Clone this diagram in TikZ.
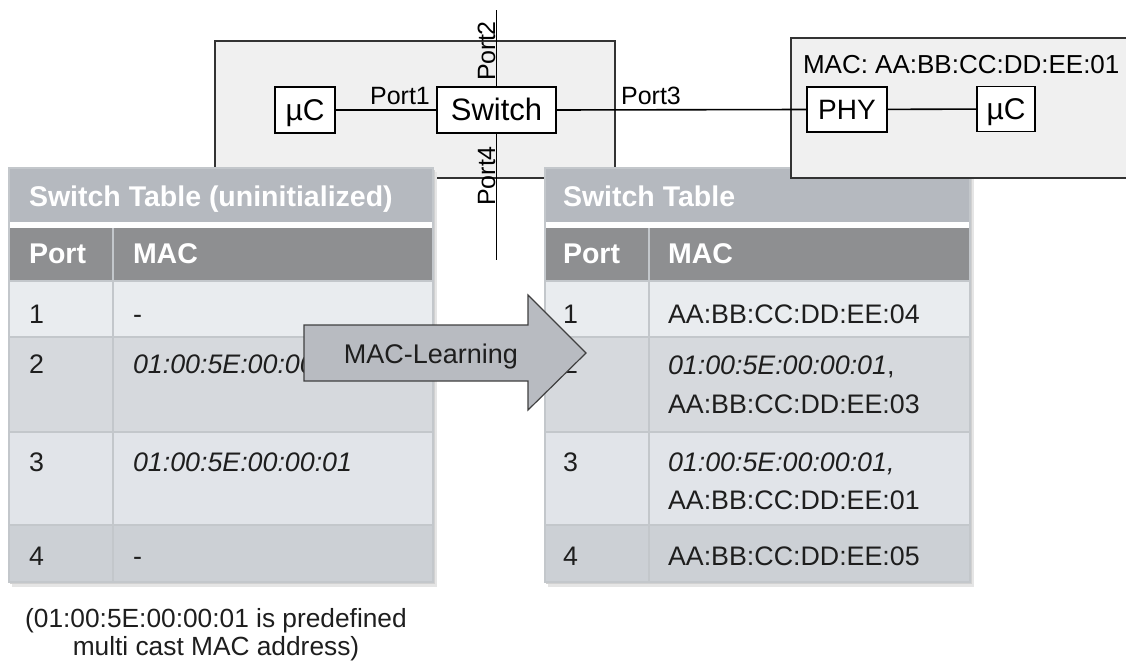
\documentclass[tikz,border=0pt]{standalone}
\usepackage{fontspec}
\setmainfont{Liberation Sans}
\definecolor{boxfill}{HTML}{F0F0F0}
\definecolor{titlebg}{HTML}{B5B9BF}
\definecolor{headbg}{HTML}{8E8F91}
\definecolor{rowa}{HTML}{E9ECEF}
\definecolor{rowb}{HTML}{D6D9DD}
\definecolor{rowc}{HTML}{E1E4E9}
\definecolor{rowd}{HTML}{CCD0D5}
\definecolor{gridc}{HTML}{C3C7CB}
\definecolor{arrowfill}{HTML}{B8BBC1}
\definecolor{celltext}{HTML}{1E1E1E}
\newcommand{\mytablebg}[3]{%
  \fill[black!10] (#1+3,172) rectangle (#3+4,587);
  \fill[black!18] (#1+1,170) rectangle (#3+2,584);
  \fill[titlebg] (#1,168) rectangle (#3,222);
  \fill[white] (#1,222) rectangle (#3,228);
  \fill[headbg] (#1,228) rectangle (#3,281);
  \fill[rowa] (#1,281) rectangle (#3,337);
  \fill[rowb] (#1,337) rectangle (#3,432);
  \fill[rowc] (#1,432) rectangle (#3,525);
  \fill[rowd] (#1,525) rectangle (#3,582);
  \draw[gridline] (#1,281) -- (#3,281);
  \draw[gridline] (#1,337) -- (#3,337);
  \draw[gridline] (#1,432) -- (#3,432);
  \draw[gridline] (#1,525) -- (#3,525);
  \draw[gridline] (#2,228) -- (#2,582);
  \draw[gridline] (#1,168) rectangle (#3,582);
}
\begin{document}
\begin{tikzpicture}[x=1pt,y=-1pt,
  every node/.style={inner sep=0pt, outer sep=0pt},
  blk/.style={draw=black, line width=1.6pt, fill=white, minimum height=46pt, text height=21.5pt, text depth=0pt},
  bigbox/.style={draw=black!80, line width=1.6pt, fill=boxfill},
  wire/.style={draw=black, line width=1.6pt},
  dtext/.style={font=\fontsize{30}{36}\selectfont},
  portlbl/.style={font=\fontsize{25}{30}\selectfont, anchor=base},
  ttitle/.style={font=\bfseries\fontsize{28.5}{34}\selectfont, text=white, anchor=base west},
  tcell/.style={font=\fontsize{26.8}{32}\selectfont, text=celltext, anchor=base west},
  gridline/.style={draw=gridc, line width=1.5pt},
  notetext/.style={font=\fontsize{26.3}{31}\selectfont, text=celltext, anchor=base},
]
\useasboundingbox (0,0) rectangle (1126,666);
\clip (0,0) rectangle (1126,666);
\fill[white] (0,0) rectangle (1126,666);

% left ECU with switch
\node[bigbox, minimum width=400pt, minimum height=137pt] (ecuA) at (415,109.5) {};
\coordinate (p2end) at (496.5,10);
\coordinate (p4end) at (496.5,260);
\node[blk, dtext, minimum width=60pt] (mcA) at (305,110) {µC};
\node[blk, font=\fontsize{31}{36}\selectfont, minimum width=119pt, text height=22pt] (sw) at (496.5,110) {Switch};
\draw[wire] (sw.north) -- (p2end);
\draw[wire] (sw.south) -- (p4end);
\draw[wire] (mcA) -- (sw);
\node[portlbl] (p1) at (400,105) {Port1};
\node[portlbl, rotate=90] (p2) at (495,51) {Port2};
\node[portlbl, rotate=90] (p4) at (495,176) {Port4};
\node[portlbl] (p3) at (651,105) {Port3};

% left table
\mytablebg{9}{113}{433}
\node[ttitle] (ltT) at (29,206) {Switch Table (uninitialized)};
\node[ttitle] (ltH1) at (29,263) {Port};
\node[ttitle] (ltH2) at (133,263) {MAC};
\node[tcell] (lt1a) at (29,323) {1};
\node[tcell] (lt1b) at (133,323) {-};
\node[tcell] (lt2a) at (29,373) {2};
\node[tcell] (lt2b) at (133,373) {\itshape 01:00:5E:00:00:01};
\node[tcell] (lt3a) at (29,471) {3};
\node[tcell] (lt3b) at (133,471) {\itshape 01:00:5E:00:00:01};
\node[tcell] (lt4a) at (29,565) {4};
\node[tcell] (lt4b) at (133,565) {-};

% right table
\mytablebg{545}{649}{970}
\node[ttitle] (rtT) at (563,206) {Switch Table};
\node[ttitle] (rtH1) at (563,263) {Port};
\node[ttitle] (rtH2) at (668,263) {MAC};
\node[tcell] (rt1a) at (563,323) {1};
\node[tcell] (rt1b) at (668,323) {AA:BB:CC:DD:EE:04};
\node[tcell] (rt2a) at (563,373) {2};
\node[tcell] (rt2b) at (668,374) {\textit{01:00:5E:00:00:01},};
\node[tcell] (rt2c) at (668,413) {AA:BB:CC:DD:EE:03};
\node[tcell] (rt3a) at (563,471) {3};
\node[tcell] (rt3b) at (668,471) {\textit{01:00:5E:00:00:01,}};
\node[tcell] (rt3c) at (668,509) {AA:BB:CC:DD:EE:01};
\node[tcell] (rt4a) at (563,565) {4};
\node[tcell] (rt4b) at (668,565) {AA:BB:CC:DD:EE:05};

% right ECU
\node[bigbox, minimum width=380pt, minimum height=140pt, anchor=north west] (ecuB) at (791,38) {};
\node[font=\fontsize{26}{32}\selectfont, anchor=base west] (macB) at (803,74) {MAC: AA:BB:CC:DD:EE:01};
\node[blk, font=\fontsize{28}{34}\selectfont, minimum width=80pt, minimum height=45pt, text height=20pt] (phy) at (847,109.5) {PHY};
\node[blk, dtext, minimum width=58pt, minimum height=45pt] (mcB) at (1006,109) {µC};
\draw[wire] (sw.east) -- (phy.west);
\draw[wire] (phy) -- (mcB);

% MAC-Learning arrow
\draw[draw=black!75, line width=1.2pt, fill=arrowfill]
  (304,325) -- (528,325) -- (528,295) -- (586,353) -- (528,410) -- (528,381) -- (304,381) -- cycle;
\node[font=\fontsize{27}{32}\selectfont, anchor=base, text=celltext] (learn) at (431,363) {MAC-Learning};

% footnote
\node[notetext] (note1) at (216,627) {(01:00:5E:00:00:01 is predefined};
\node[notetext] (note2) at (216,655) {multi cast MAC address)};
\end{tikzpicture}
\end{document}
